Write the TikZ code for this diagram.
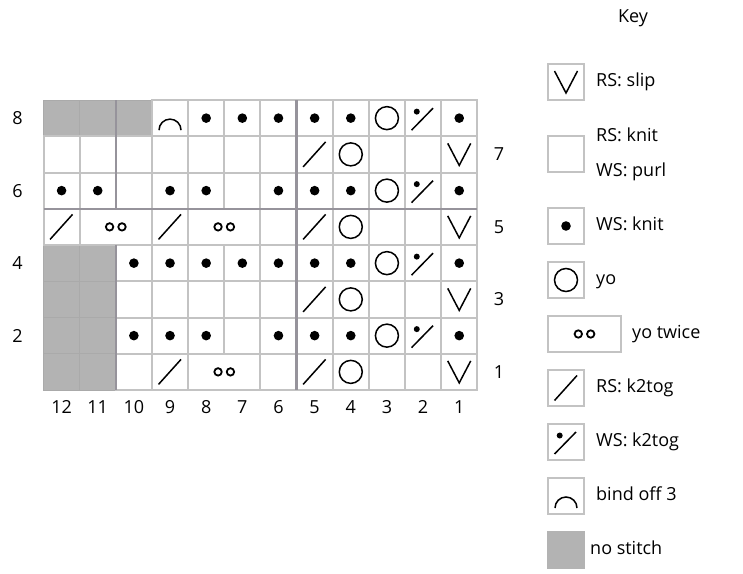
\documentclass[tikz,border=0pt]{standalone}
\usepackage{fontspec}
\setmainfont{Open Sans}
\definecolor{chartGrid}{RGB}{195,195,195}
\definecolor{chartRepeat}{RGB}{150,147,155}
\definecolor{chartNone}{RGB}{179,179,179}
\definecolor{chartNoneLine}{RGB}{170,170,170}
\usetikzlibrary{positioning}

\tikzset{
  symline/.style={line width=1.5pt, black},
  pics/knitdot/.style={code={\fill (0,0) circle (4.8pt);}},
  pics/yo/.style={code={\draw[symline] (0,0) circle (11.5pt);}},
  pics/yotwice/.style={code={\draw[line width=1.8pt] (-6.2,0) circle (3.7pt) (6.2,0) circle (3.7pt);}},
  pics/slip/.style={code={\draw[symline] (-11.5,-11) -- (0,11) -- (11.5,-11);}},
  pics/rsktog/.style={code={\draw[symline] (-11.5,12.5) -- (11,-12.5);}},
  pics/wsktog/.style={code={\draw[symline] (-11.5,12) -- (10,-10);
                            \fill (-6.3,-6.5) circle (3pt);}},
  pics/bindoff/.style={code={\draw[symline] (-11,12) arc[start angle=180, end angle=0,
                                                          x radius=11pt, y radius=11pt];}}
}

\begin{document}
\begin{tikzpicture}[x=1pt, y=-1pt,
  lbl/.style={font=\fontsize{18pt}{22pt}\selectfont},
  cell/.style={draw=chartGrid, line width=2pt, minimum width=36.15pt,
               minimum height=36.25pt, inner sep=0pt, outer sep=0pt},
  wide/.style={cell, minimum width=72.3pt},
  nostitch/.style={cell, draw=chartNoneLine, line width=1pt, fill=chartNone},
  rep/.style={draw=chartRepeat, line width=2.5pt},
  keybox/.style={cell, minimum width=36pt, minimum height=36pt},
  keylbl/.style={lbl, anchor=west, inner sep=0pt, text height=13pt, text depth=4pt}
]
  \useasboundingbox (0,0) rectangle (743,573);

  % no stitch cells
  \foreach \c/\r in {12/8,11/8,10/8,12/4,11/4,12/3,11/3,12/2,11/2,12/1,11/1}
    \node[nostitch] (n\c-\r) at ({43.5+(12.5-\c)*36.15},{100+(8.5-\r)*36.25}) {};

  % plain cells
  \foreach \r/\cols in {8/{1,...,9},7/{1,...,12},6/{1,...,12},5/{1,2,3,4,5,6,9,12},
                        4/{1,...,10},3/{1,...,10},2/{1,...,10},1/{1,2,3,4,5,6,9,10}}
    \foreach \c in \cols
      \node[cell] (n\c-\r) at ({43.5+(12.5-\c)*36.15},{100+(8.5-\r)*36.25}) {};

  % two-stitch cells
  \node[wide] (n11-5) at ({43.5+2*36.15},{100+3.5*36.25}) {};
  \node[wide] (n8-5)  at ({43.5+5*36.15},{100+3.5*36.25}) {};
  \node[wide] (n8-1)  at ({43.5+5*36.15},{100+7.5*36.25}) {};

  % repeat lines
  \draw[rep] (n10-8.north west) -- (n10-6.south west);
  \draw[rep] (n10-4.north west) -- (n10-1.south west);
  \draw[rep] (n5-8.north west) -- (n5-1.south west);
  \draw[rep] (n12-6.south west) -- (n1-6.south east);

  % stitches
  \foreach \c/\r in {8/8,7/8,6/8,5/8,4/8,1/8, 12/6,11/6,9/6,8/6,6/6,5/6,4/6,1/6,
                     10/4,9/4,8/4,7/4,6/4,5/4,4/4,1/4, 10/2,9/2,8/2,6/2,5/2,4/2,1/2}
    \pic at (n\c-\r) {knitdot};
  \foreach \r in {8,6,4,2} {
    \pic at (n3-\r) {yo};
    \pic at (n2-\r) {wsktog};
  }
  \foreach \r in {7,5,3,1} {
    \pic at (n4-\r) {yo};
    \pic at (n5-\r) {rsktog};
    \pic at (n1-\r) {slip};
  }
  \foreach \c/\r in {12/5,9/5,9/1}
    \pic at (n\c-\r) {rsktog};
  \foreach \n in {n11-5,n8-5,n8-1}
    \pic at (\n) {yotwice};
  \pic at (n9-8) {bindoff};

  % row and column numbers
  \foreach \r in {8,6,4,2}
    \node[lbl] (rl\r) at (17.5,{100+(8.5-\r)*36.25}) {\r};
  \foreach \r in {7,5,3,1}
    \node[lbl] (rr\r) at (499,{100+(8.5-\r)*36.25}) {\r};
  \foreach \c in {1,...,12}
    \node[lbl] (cl\c) at ({43.5+(12.5-\c)*36.15},407) {\c};

  % key
  \node[lbl] (keyttl) at (633,18.5) {Key};
  \node[keybox] (kslip) at (566,82) {};
  \node[keybox, below=36pt of kslip] (kknit) {};
  \node[keybox, below=36pt of kknit] (kdot) {};
  \node[keybox, below=18pt of kdot] (kyo) {};
  \node[keybox, minimum width=73pt, below=18pt of kyo.south west, anchor=north west] (kyotw) {};
  \node[keybox, below=18pt of kyotw.south west, anchor=north west] (kk2) {};
  \node[keybox, below=18pt of kk2] (kws) {};
  \node[keybox, below=18pt of kws] (kbo) {};
  \node[keybox, draw=chartNone, fill=chartNone, below=18pt of kbo] (knone) {};

  \pic at (kslip) {slip};
  \pic at (kdot) {knitdot};
  \pic at (kyo) {yo};
  \pic at (kyotw) {yotwice};
  \pic at (kk2) {rsktog};
  \pic at (kws) {wsktog};
  \pic at (kbo) {bindoff};

  \node[keylbl, right=12pt of kslip] (lslip) {RS: slip};
  \node[keylbl] (lknit) at ([xshift=12pt,yshift=17pt]kknit.east) {RS: knit};
  \node[keylbl] (lpurl) at ([xshift=12pt,yshift=-18pt]kknit.east) {WS: purl};
  \node[keylbl, right=12pt of kdot] (ldot) {WS: knit};
  \node[keylbl, right=12pt of kyo] (lyo) {yo};
  \node[keylbl, right=11pt of kyotw] (lyotw) {yo twice};
  \node[keylbl, right=12pt of kk2] (lk2) {RS: k2tog};
  \node[keylbl, right=12pt of kws] (lws) {WS: k2tog};
  \node[keylbl, right=12pt of kbo] (lbo) {bind off 3};
  \node[keylbl, right=6pt of knone] (lnone) {no stitch};
\end{tikzpicture}
\end{document}
